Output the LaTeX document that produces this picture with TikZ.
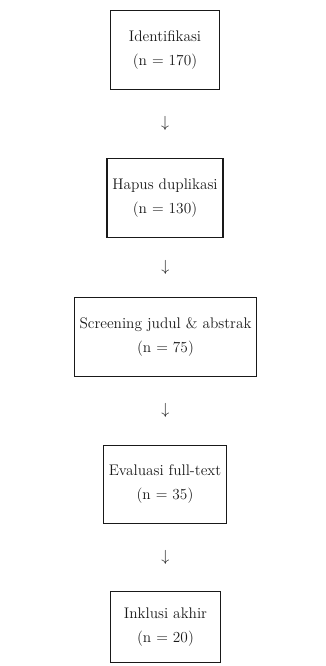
\documentclass[tikz,border=0pt]{standalone}
\usepackage{xcolor}
\definecolor{flowdark}{RGB}{25,25,25}
\usepackage{tikz}
\usetikzlibrary{arrows.meta,positioning}

\begin{document}
\begin{tikzpicture}[
  x=0.75pt,y=-0.75pt,
  every node/.style={font=\fontsize{11.5}{18}\selectfont,text=flowdark},
  stagebox/.style={draw=flowdark,line width=0.9pt,minimum width=82pt,minimum height=59pt,
                   align=center,inner xsep=4pt},
  downsym/.style={font=\fontsize{12}{12}\selectfont},
]
  \useasboundingbox (0,0) rectangle (325,666);

  % PRISMA stages
  \node[stagebox] (ident) at (165,50)   {Identifikasi\\(n = 170)};
  \node[stagebox] (dupl)  at (165,198)  {Hapus duplikasi\\(n = 130)};
  \node[stagebox] (scrn)  at (165.5,337) {Screening judul \& abstrak\\(n = 75)};
  \node[stagebox] (full)  at (165,484.5) {Evaluasi full-text\\(n = 35)};
  \node[stagebox,minimum height=53pt] (incl) at (165.5,627) {Inklusi akhir\\(n = 20)};

  % arrows between stages
  \path (ident) -- node[downsym] {$\downarrow$} (dupl);
  \path (dupl)  -- node[downsym] {$\downarrow$} (scrn);
  \path (scrn)  -- node[downsym] {$\downarrow$} (full);
  \path (full)  -- node[downsym] {$\downarrow$} (incl);
\end{tikzpicture}
\end{document}
